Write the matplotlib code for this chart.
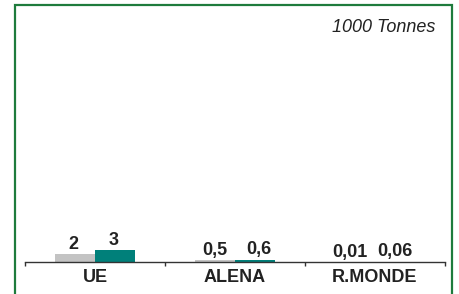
import matplotlib
matplotlib.use("Agg")
import matplotlib.pyplot as plt
from matplotlib.patches import Rectangle

categories = ["UE", "ALENA", "R.MONDE"]
series_a = [2, 0.5, 0.01]
series_b = [3, 0.6, 0.06]
labels_a = ["2", "0,5", "0,01"]
labels_b = ["3", "0,6", "0,06"]
unit_text = "1000 Tonnes"

# label nudges in points (style only)
nudge_a = [-1, 0, -4]
nudge_b = [-1, 3, 0]

FS = 13

fig = plt.figure(figsize=(4.6, 2.94), dpi=100)
fig.patch.set_facecolor("white")

# green frame
fig.patches.append(Rectangle((15.5/460, -0.1), (452.5-15.5)/460, 1.1 - 4.5/294,
                             transform=fig.transFigure, fill=False,
                             edgecolor="#1e7b3c", linewidth=1.6))

ax = fig.add_axes([25/460, 32/294, 420/460, (262-20)/294])
x = list(range(len(categories)))
w = 0.2857
ax.bar([i - w/2 for i in x], series_a, width=w, color="#c3c3c3")
ax.bar([i + w/2 for i in x], series_b, width=w, color="#00807a")

for i in x:
    ax.annotate(labels_a[i], (i - w/2, series_a[i]), xytext=(nudge_a[i], 1),
                textcoords="offset points", ha="center", va="bottom",
                fontsize=FS, fontweight="bold", family="Liberation Sans", color="#222222")
    ax.annotate(labels_b[i], (i + w/2, series_b[i]), xytext=(nudge_b[i], 1),
                textcoords="offset points", ha="center", va="bottom",
                fontsize=FS, fontweight="bold", family="Liberation Sans", color="#222222")

ax.set_xlim(-0.5, 2.5)
ax.set_ylim(0, 60)
for s in ["top", "right", "left"]:
    ax.spines[s].set_visible(False)
ax.spines["bottom"].set_color("#333333")
ax.spines["bottom"].set_linewidth(1.0)
ax.set_yticks([])
ax.set_xticks(x)
ax.set_xticklabels(categories, fontsize=FS, fontweight="bold", family="Liberation Sans", color="#222222")
ax.tick_params(axis="x", which="major", length=0, pad=5)
ax.set_xticks([-0.5, 0.5, 1.5, 2.5], minor=True)
ax.tick_params(axis="x", which="minor", length=3, color="#333333", width=1)

fig.text(435/460, 1 - 27/294, unit_text, ha="right", va="center",
         fontsize=FS, style="italic", family="Liberation Sans", color="#222222")

fig.savefig("out.png", dpi=100)
